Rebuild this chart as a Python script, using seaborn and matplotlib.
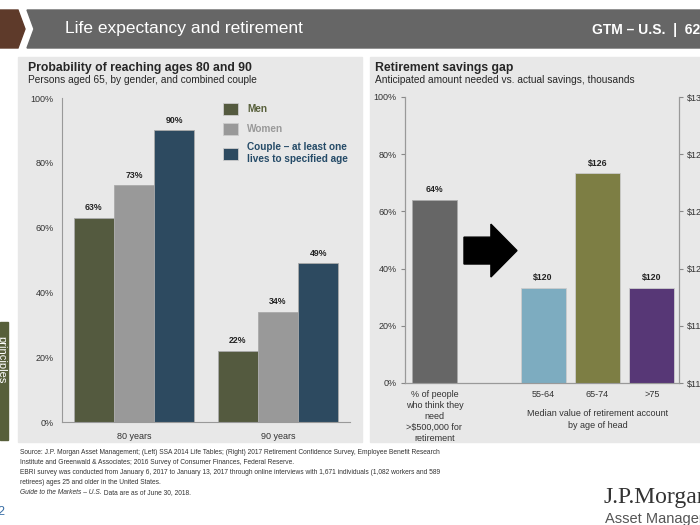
import pandas as pd
import matplotlib.pyplot as plt
import matplotlib.patches as mpatches
import matplotlib.transforms as mtransforms
import seaborn as sns

# Left chart: probability of reaching ages 80 and 90
ages = ["80 years", "90 years"]
groups = ["Men", "Women", "Couple – at least one\nlives to specified age"]
men = [63, 22]
women = [73, 34]
couple = [90, 49]
pct_ticks = [0, 20, 40, 60, 80, 100]

# Right chart: retirement savings gap
need_label = "% of people\nwho think they\nneed\n>$500,000 for\nretirement"
need_pct = [64]
age_heads = ["55-64", "65-74", ">75"]
median_savings = [120, 126, 120]   # $ thousands
savings_ticks = [115, 118, 121, 124, 127, 130]

group_colors = ["#575F3A", "#999999", "#254B68"]
age_colors = ["#72B1CB", "#86883A", "#582C80"]

sns.set_style("white")
plt.rcParams["font.family"] = ["Liberation Sans", "DejaVu Sans"]

W, H = 700, 525
fig = plt.figure(figsize=(7, 5.25), dpi=100)


def fx(px):
    return px / W


def fy(py):
    return 1 - py / H


def bg(patch):
    patch.set_zorder(-5)
    fig.patches.append(patch)


# header bar and panels
bg(mpatches.Polygon(
    [(fx(0), fy(10)), (fx(18), fy(10)), (fx(25), fy(29)), (fx(18), fy(48)), (fx(0), fy(48))],
    closed=True, transform=fig.transFigure, color="#5E3A2A"))
bg(mpatches.Polygon(
    [(fx(27), fy(10)), (fx(700), fy(10)), (fx(700), fy(48)), (fx(27), fy(48)), (fx(34), fy(29))],
    closed=True, transform=fig.transFigure, color="#666666"))
fig.text(fx(65), fy(29), "Life expectancy and retirement", color="white", fontsize=12.5,
         va="center", family=["Liberation Sans Narrow", "Liberation Sans"])
fig.text(fx(592), fy(30), "GTM – U.S.  |  62", color="white", fontsize=10, va="center",
         family=["Liberation Sans Narrow", "Liberation Sans"], fontweight="bold")

bg(mpatches.Rectangle((fx(18), fy(442)), fx(344), 385 / H,
                      transform=fig.transFigure, color="#E8E8E8"))
bg(mpatches.Rectangle((fx(370), fy(442)), fx(340), 385 / H,
                      transform=fig.transFigure, color="#E8E8E8"))
bg(mpatches.Rectangle((fx(0), fy(440)), fx(8), 118 / H,
                      transform=fig.transFigure, color="#575F3A"))
fig.text(fx(1), fy(360), "principles", color="white", fontsize=8, rotation=270,
         va="center", ha="center")

fig.text(fx(28), fy(68), "Probability of reaching ages 80 and 90", fontsize=8.8,
         fontweight="bold", va="center")
fig.text(fx(28), fy(80), "Persons aged 65, by gender, and combined couple", fontsize=7.3,
         va="center")
fig.text(fx(375), fy(68), "Retirement savings gap", fontsize=8.8, fontweight="bold", va="center")
fig.text(fx(375), fy(80), "Anticipated amount needed vs. actual savings, thousands",
         fontsize=7.3, va="center")

# ---- left chart
axl = fig.add_axes([fx(62), fy(422), fx(288), 324 / H])
axl.set_facecolor("none")
left = pd.DataFrame({
    "age": ages * 3,
    "group": [g for g in groups for _ in ages],
    "pct": men + women + couple,
})
sns.barplot(data=left, x="age", y="pct", hue="group", palette=group_colors, width=0.84,
            gap=0, edgecolor="#AAAAAA", linewidth=0.6, errorbar=None, ax=axl)
for c in axl.containers:
    axl.bar_label(c, fmt="%d%%", padding=4, fontsize=6.3, fontweight="bold", color="#222222")
axl.set_ylim(0, 100)
axl.set_xlim(-0.5, 1.5)
axl.set_yticks(pct_ticks)
axl.set_yticklabels([f"{t}%" for t in pct_ticks])
axl.set_xlabel("")
axl.set_ylabel("")
axl.tick_params(axis="y", length=3, color="#888888", labelsize=6.5, labelcolor="#333333", pad=3)
axl.tick_params(axis="x", length=0, labelsize=6.5, labelcolor="#333333", pad=7)
for s in ["top", "right"]:
    axl.spines[s].set_visible(False)
for s in ["left", "bottom"]:
    axl.spines[s].set_color("#999999")
    axl.spines[s].set_linewidth(0.8)

handles, labels = axl.get_legend_handles_labels()
leg = axl.legend(handles, labels, loc="upper left", bbox_to_anchor=(fx(214), fy(94)),
                 bbox_transform=fig.transFigure, frameon=False, fontsize=7.2,
                 handlelength=1.5, handleheight=1.5, labelspacing=0.75, handletextpad=0.9)
for txt, col in zip(leg.get_texts(), group_colors):
    txt.set_color(col)
    txt.set_fontweight("bold")
for h in leg.legend_handles:
    h.set_edgecolor("#CCCCCC")

# ---- right chart
axr = fig.add_axes([fx(405), fy(383), fx(274), 286 / H])
axr.set_facecolor("none")
order = [need_label, " "] + age_heads
sns.barplot(x=[need_label], y=need_pct, order=order, color="#666666", width=0.83,
            edgecolor="#AAAAAA", linewidth=0.6, errorbar=None, ax=axr)
axr.bar_label(axr.containers[0], fmt="%d%%", padding=4, fontsize=6.3, fontweight="bold",
              color="#222222")

ax2 = axr.twinx()
ax2.set_facecolor("none")
right = pd.DataFrame({"age": age_heads, "val": median_savings})
sns.barplot(data=right, x="age", y="val", hue="age", order=order, palette=age_colors,
            width=0.83, edgecolor="#CCCCCC", linewidth=0.6, errorbar=None, legend=False, ax=ax2)
for c in ax2.containers:
    ax2.bar_label(c, fmt="$%d", padding=4, fontsize=6.3, fontweight="bold", color="#222222")
ax2.set_ylim(115, 130)
ax2.set_yticks(savings_ticks)
ax2.set_yticklabels([f"${t}" for t in savings_ticks])
ax2.set_ylabel("")

axr.set_ylim(0, 100)
axr.set_yticks(pct_ticks)
axr.set_yticklabels([f"{t}%" for t in pct_ticks])
axr.set_xlim(-0.54, 4.5)
axr.set_xticks(range(len(order)))
axr.set_xticklabels(order, linespacing=1.3)
axr.set_xlabel("")
axr.set_ylabel("")
axr.tick_params(axis="y", length=3, color="#888888", labelsize=6.5, labelcolor="#333333", pad=3)
axr.tick_params(axis="x", length=0, labelsize=6.5, labelcolor="#333333", pad=5)
ax2.tick_params(axis="y", length=3, color="#888888", labelsize=6.5, labelcolor="#333333", pad=3)
for a in (axr, ax2):
    a.spines["top"].set_visible(False)
    for s in ["left", "right", "bottom"]:
        a.spines[s].set_color("#999999")
        a.spines[s].set_linewidth(0.8)

axr.add_patch(mpatches.FancyArrow(0.545, 46.3, 0.975, 0, width=9.4, head_width=18.5,
                                  head_length=0.48, length_includes_head=True,
                                  color="black", zorder=3))
trans = mtransforms.blended_transform_factory(axr.transData, axr.transAxes)
axr.text(3, -0.09, "Median value of retirement account\nby age of head", transform=trans,
         ha="center", va="top", fontsize=6.5, color="#333333", linespacing=1.4)

# ---- footnotes
notes = [
    "Source: J.P. Morgan Asset Management; (Left) SSA 2014 Life Tables; (Right) 2017 Retirement Confidence Survey, Employee Benefit Research",
    "Institute and Greenwald & Associates; 2016 Survey of Consumer Finances, Federal Reserve.",
    "EBRI survey was conducted from January 6, 2017 to January 13, 2017 through online interviews with 1,671 individuals (1,082 workers and 589",
    "retirees) ages 25 and older in the United States.",
]
note_y = [452, 462, 473, 483]
for t, y in zip(notes, note_y):
    fig.text(fx(20), fy(y), t, fontsize=4.8, color="#333333", va="center")
gt = fig.text(fx(20), fy(493), "Guide to the Markets – U.S.", fontsize=4.8, color="#333333",
              va="center", style="italic")
fig.add_artist(plt.Annotation(" Data are as of June 30, 2018.", xy=(1, 0), xycoords=gt,
                              va="bottom", fontsize=4.8, color="#333333"))

fig.text(fx(604), fy(497), "J.P.Morgan", fontsize=17, color="#333333", va="center",
         family=["Liberation Serif", "DejaVu Serif"])
fig.text(fx(605), fy(519), "Asset Management", fontsize=10.5, color="#555555", va="center",
         family=["Liberation Sans Narrow", "Liberation Sans"])
fig.text(fx(-3), fy(512), "2", fontsize=9, color="#3A6EA5", va="center")

fig.savefig("out.png", dpi=100)
